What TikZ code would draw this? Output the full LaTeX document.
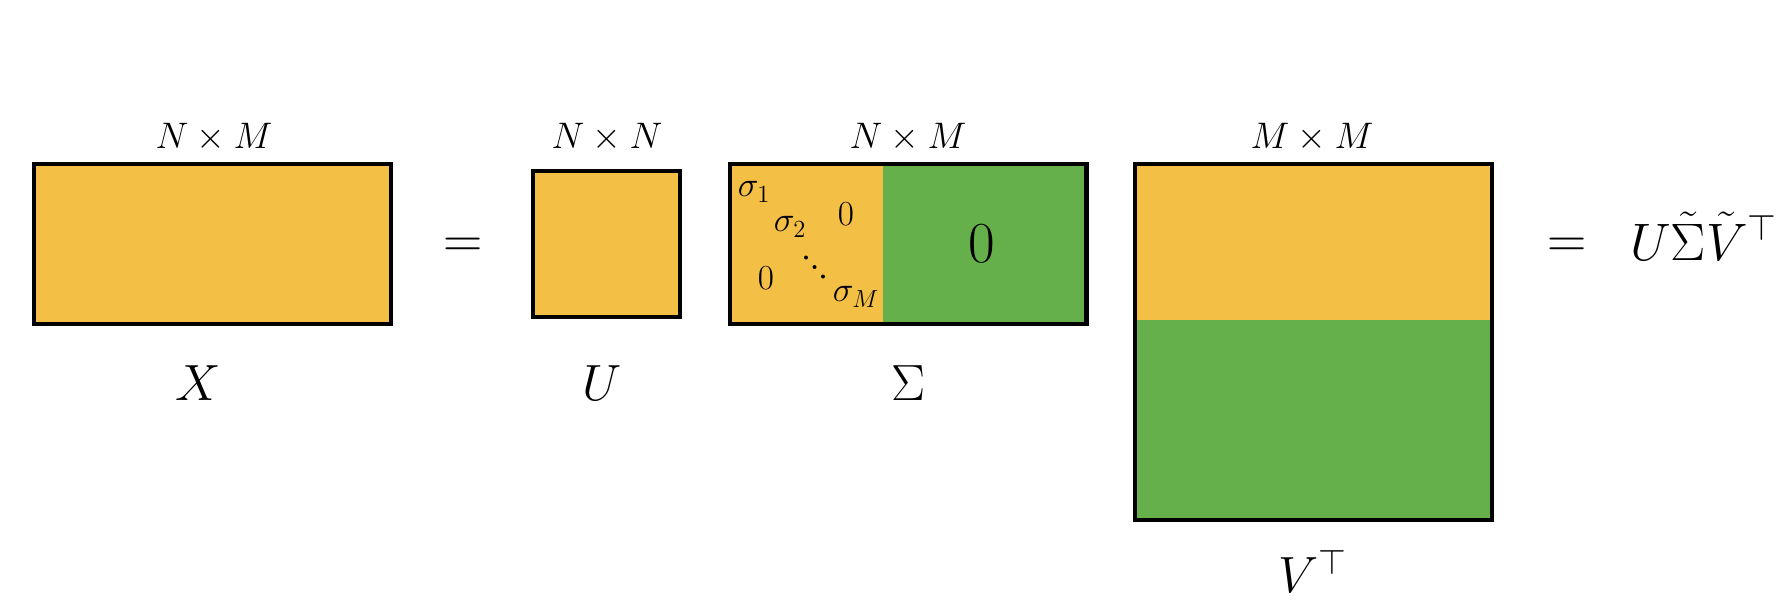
\RequirePackage{fix-cm}
\documentclass[tikz,border=0pt]{standalone}
\usepackage{amsmath,amssymb}
\usepackage{tikz}
\usetikzlibrary{positioning}
\definecolor{MatOrange}{RGB}{243,191,69}
\definecolor{MatGreen}{RGB}{102,176,76}
\tikzset{
  matfill/.style={inner sep=0pt, outer sep=0pt, draw=none},
  orangepart/.style={matfill, fill=MatOrange},
  greenpart/.style={matfill, fill=MatGreen},
  matbox/.style={orangepart, draw=black, line width=2.5pt},
  frame/.style={draw=black, line width=2.5pt},
  dimlbl/.style={anchor=base, inner sep=0pt, font=\fontsize{21}{25}\selectfont},
  namelbl/.style={anchor=base, inner sep=0pt, font=\fontsize{29}{34}\selectfont},
  entry/.style={inner sep=0pt, font=\fontsize{20}{24}\selectfont},
  eqsign/.style={anchor=base, inner sep=0pt, font=\fontsize{31}{36}\selectfont},
}

\begin{document}
\begin{tikzpicture}
        \useasboundingbox (0,0) rectangle (35.82,12.2);
        % X = U Sigma V^T
        \node[matbox, minimum width=7.13cm, minimum height=3.19cm] (X) at (4.25,7.32) {};
        \node[matbox, minimum width=2.93cm, minimum height=2.91cm] (U) at (12.13,7.32) {};
        \node[orangepart, minimum width=3.055cm, minimum height=3.19cm] (sigL) at (16.13,7.32) {};
        \node[greenpart, minimum width=4.075cm, minimum height=3.19cm, right=0pt of sigL] (sigR) {};
        \draw[frame] (sigL.north west) rectangle (sigR.south east);
        \node[orangepart, minimum width=7.13cm, minimum height=3.115cm] (vtop) at (26.27,7.3575) {};
        \node[greenpart, minimum width=7.13cm, minimum height=3.995cm, below=0pt of vtop] (vbot) {};
        \draw[frame] (vtop.north west) rectangle (vbot.south east);
        % entries of Sigma
        \node[entry] (s1) at (15.08,8.36) {$\sigma_1$};
        \node[entry] (s2) at (15.80,7.66) {$\sigma_2$};
        \node[entry] (zup) at (16.92,7.92) {$0$};
        \node[entry] (zlow) at (15.32,6.64) {$0$};
        \node[entry] (sM) at (17.12,6.26) {$\sigma_M$};
        \foreach \d in {0,1,2}
          \fill (16.12+0.17*\d,7.05-0.19*\d) circle (0.04);
        \node[inner sep=0pt, font=\fontsize{33}{38}\selectfont] (zbig) at (19.64,7.32) {$0$};
        % sizes and names
        \node[dimlbl] (dX) at (4.28,9.23) {$N\times M$};
        \node[dimlbl] (dU) at (12.14,9.23) {$N\times N$};
        \node[dimlbl] (dS) at (18.16,9.23) {$N\times M$};
        \node[dimlbl] (dV) at (26.24,9.23) {$M\times M$};
        \node[namelbl] (nX) at (3.96,4.19) {$X$};
        \node[namelbl] (nU) at (12.04,4.19) {$U$};
        \node[namelbl] (nS) at (18.16,4.19) {$\Sigma$};
        \node[namelbl] (nV) at (26.26,0.35) {$V^{\top}$};
        \node[eqsign] (eq1) at (9.26,7.05) {$=$};
        \node[eqsign] (eq2) at (31.34,7.05) {$=$};
        \node[anchor=base west, inner sep=0pt, font=\fontsize{30}{35}\selectfont] (red) at (32.6,7.0) {$U\tilde{\Sigma}\tilde{V}^{\top}$};
      \end{tikzpicture}
\end{document}
